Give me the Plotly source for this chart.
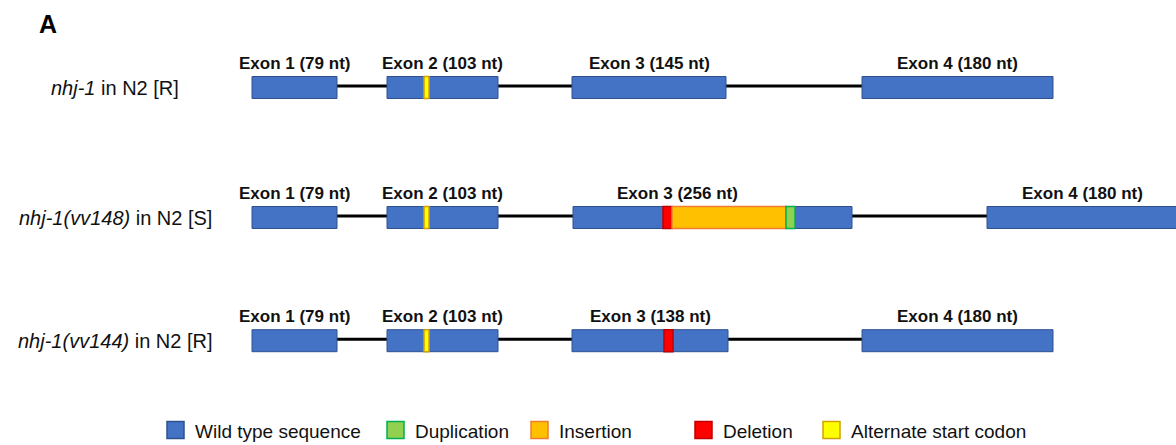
import plotly.graph_objects as go

# ---------------------------------------------------------------- data
strains = ["<i>nhj-1</i> in N2 [R]",
           "<i>nhj-1(vv148)</i> in N2 [S]",
           "<i>nhj-1(vv144)</i> in N2 [R]"]

# exon lengths (nt) for each allele
exon_nt = [[79, 103, 145, 180],
           [79, 103, 256, 180],
           [79, 103, 138, 180]]

# exon boundaries in diagram units
exon_start = [[252, 387, 572, 862],
              [252, 387, 573, 987],
              [252, 387, 572, 862]]
exon_end = [[337, 498, 726, 1053],
            [337, 498, 852, 1178],
            [337, 498, 728, 1053]]

# sequence features: strain index, feature type, start, end (diagram units)
feat_row = [0, 1, 2, 1, 1, 1, 2]
feat_kind = ["Alternate start codon", "Alternate start codon", "Alternate start codon",
             "Deletion", "Insertion", "Duplication", "Deletion"]
feat_start = [424, 424, 424, 663, 672, 786, 664]
feat_end = [429, 429, 429, 672, 786, 795, 673]

legend_items = ["Wild type sequence", "Duplication", "Insertion", "Deletion",
                "Alternate start codon"]

# ---------------------------------------------------------------- styling
W, H = 1176, 445
FONT = "Liberation Sans, Arial, sans-serif"
fill = {"Wild type sequence": "#4472C4", "Duplication": "#92D050",
        "Insertion": "#FFC000", "Deletion": "#FF0000",
        "Alternate start codon": "#FFFF00"}
edge = {"Wild type sequence": "#2F528F", "Duplication": "#00B050",
        "Insertion": "#ED7D31", "Deletion": "#C00000",
        "Alternate start codon": "#D4A000"}

row_y = [87.5, 217.5, 340.7]
half_h = 11
strain_label_x = 115
exon_label_dy = -24
exon_label_shift = {(1, 2): -35}

legend_y = 430
legend_sq = 17
legend_x = [167, 387, 531, 695, 823]

shapes, annotations = [], []

for r, name in enumerate(strains):
    y = row_y[r]
    # intron backbone
    shapes.append(dict(type="line", xref="x", yref="y",
                       x0=exon_start[r][0], x1=exon_end[r][-1], y0=y - 1.5, y1=y - 1.5,
                       line=dict(color="black", width=3), layer="below"))
    # exons
    for i, (s, e, nt) in enumerate(zip(exon_start[r], exon_end[r], exon_nt[r])):
        shapes.append(dict(type="rect", xref="x", yref="y",
                           x0=s, x1=e, y0=y - half_h, y1=y + half_h,
                           fillcolor=fill["Wild type sequence"],
                           line=dict(color=edge["Wild type sequence"], width=1)))
        annotations.append(dict(x=(s + e) / 2 + exon_label_shift.get((r, i), 0),
                                y=y + exon_label_dy, xref="x", yref="y",
                                text=f"<b>Exon {i + 1} ({nt} nt)</b>", showarrow=False,
                                xanchor="center", yanchor="middle",
                                font=dict(family=FONT, size=17, color="#111111")))
    annotations.append(dict(x=strain_label_x, y=y, xref="x", yref="y", text=name,
                            showarrow=False, xanchor="center", yanchor="middle",
                            font=dict(family=FONT, size=20, color="#111111")))

# mutation features drawn over the exons
for r, k, s, e in zip(feat_row, feat_kind, feat_start, feat_end):
    y = row_y[r]
    shapes.append(dict(type="rect", xref="x", yref="y",
                       x0=s, x1=e, y0=y - half_h, y1=y + half_h,
                       fillcolor=fill[k], line=dict(color=edge[k], width=1.5)))

# legend
for name, x in zip(legend_items, legend_x):
    shapes.append(dict(type="rect", xref="x", yref="y",
                       x0=x, x1=x + legend_sq,
                       y0=legend_y - legend_sq / 2, y1=legend_y + legend_sq / 2,
                       fillcolor=fill[name], line=dict(color=edge[name], width=1.5)))
    annotations.append(dict(x=x + legend_sq + 9, y=legend_y + 1, xref="x", yref="y",
                            text=name, showarrow=False, xanchor="left",
                            yanchor="middle",
                            font=dict(family=FONT, size=19, color="#111111")))

# panel letter
annotations.append(dict(x=48, y=24, xref="x", yref="y", text="<b>A</b>",
                        showarrow=False, xanchor="center", yanchor="middle",
                        font=dict(family=FONT, size=25, color="black")))

fig = go.Figure()
fig.update_layout(
    width=W, height=H, margin=dict(l=0, r=0, t=0, b=0),
    paper_bgcolor="white", plot_bgcolor="white",
    xaxis=dict(range=[0, W], visible=False, fixedrange=True),
    yaxis=dict(range=[H, 0], visible=False, fixedrange=True),
    shapes=shapes, annotations=annotations, showlegend=False,
)
fig.write_html("out.html")
